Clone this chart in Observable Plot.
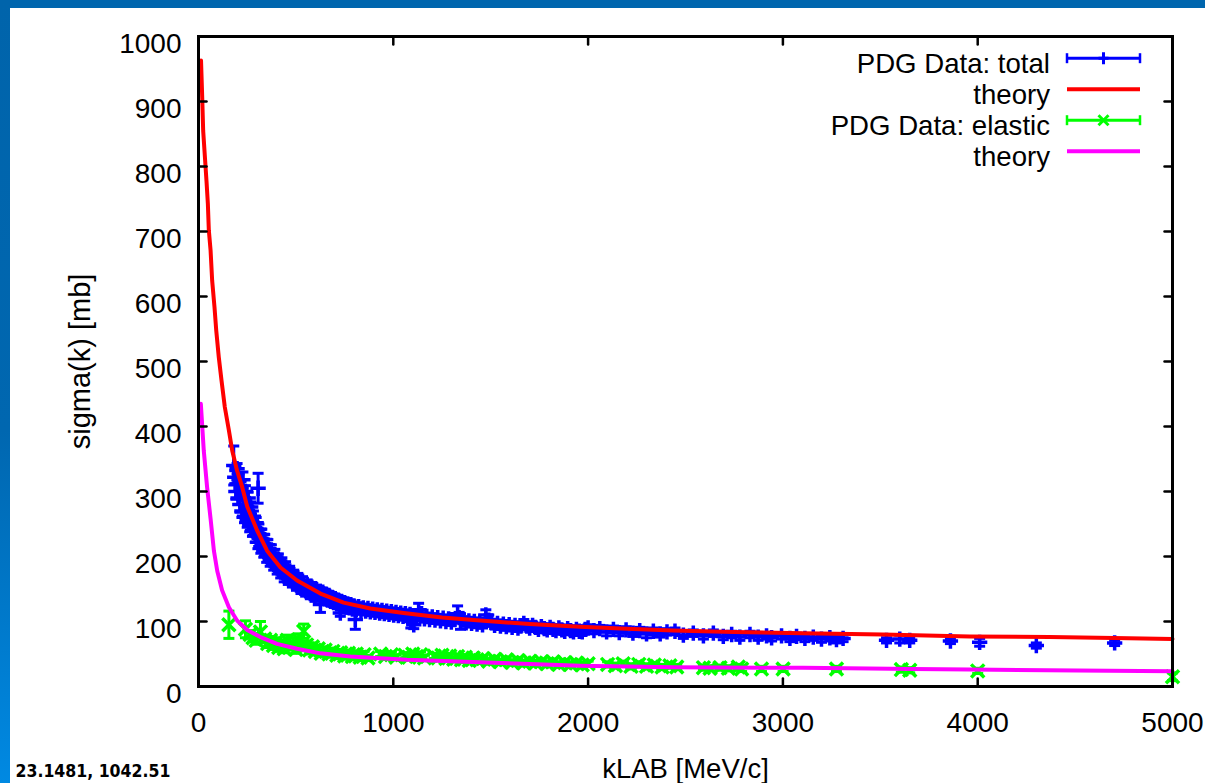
<!DOCTYPE html>
<html><head><meta charset="utf-8">
<script src="https://cdn.jsdelivr.net/npm/d3@7"></script>
<script src="https://cdn.jsdelivr.net/npm/@observablehq/plot@0.6"></script>
<style>
html,body{margin:0;padding:0;background:#fff;width:1205px;height:783px;overflow:hidden;}
#wrap{position:relative;width:1205px;height:783px;}
#topbar{position:absolute;left:0;top:0;width:1205px;height:8px;background:#0066ae;}
#leftbar{position:absolute;left:0;top:0;width:10px;height:783px;background:linear-gradient(#0064ab,#0067b0 55%,#0089e2);}
#chart{position:absolute;left:0;top:0;}
</style></head>
<body><div id="wrap"><div id="chart"></div><div id="topbar"></div><div id="leftbar"></div></div>
<script>
// ---- data ----
const xTicks = [0, 1000, 2000, 3000, 4000, 5000];
const yTicks = [0, 100, 200, 300, 400, 500, 600, 700, 800, 900, 1000];
const legendLabels = ["PDG Data: total", "theory", "PDG Data: elastic", "theory"];
const xLabel = "kLAB [MeV/c]";
const yLabel = "sigma(k) [mb]";
const cornerText = "23.1481, 1042.51";

// theory (total): k [MeV/c], sigma [mb]
const redK = [13, 19, 24, 33, 41, 48, 53, 62, 70, 82, 91, 104, 118, 135, 156, 173, 198, 224, 250, 301, 352, 421, 506, 626, 745, 882, 1053, 1250, 1446, 1700, 1959, 2200, 2436, 2750, 3103, 3513, 3959, 4369, 4700, 5000];
const redS = [963, 907, 855, 814, 778, 743, 702, 671, 625, 584, 548, 507, 471, 430, 394, 363, 332, 307, 277, 240, 209, 183, 163, 143, 129, 120, 113, 106, 101.5, 96, 92, 89, 86, 84, 82, 80, 77, 76, 74.5, 73];
// theory (elastic)
const magK = [12, 27, 44, 62, 79, 96, 121, 156, 198, 250, 318, 403, 506, 626, 779, 933, 1070, 1446, 1959, 2436, 3103, 3667, 3959, 4513, 5000];
const magS = [435, 363, 307, 258, 209, 178, 148, 122, 101.5, 87, 76, 65.6, 58, 51, 46, 43.5, 41, 37.4, 32, 29.7, 28.7, 27, 26, 24.6, 23.5];

// PDG total: [k, sigma, error]
const totalA = [[181,340,30],[186,322,10],[192,300,12],[198,335,8],[203,290,10],[208,318,9],[213,280,12],[218,305,10],[223,270,10],[228,318,12],
  [232,288,10],[236,262,10],[241,300,9],[245,276,10],[250,255,10],[255,290,9],[259,268,9],[306,305,23],[263,248,10],[268,276,8],
  [272,256,9],[277,240,9],[282,262,8],[287,245,8],[291,232,10],[296,252,8],[300,236,8],[305,222,10],[310,242,8],[315,228,8],
  [320,215,10],[325,234,8],[330,220,8],[335,208,9],[340,226,8],[345,212,8],[350,200,9],[356,218,8],[362,204,8],[368,194,9],
  [374,210,8],[380,196,8],[386,188,9],[392,203,8],[398,190,8],[404,182,9],[410,196,8],[416,184,8],[422,176,9],[428,190,8],
  [434,178,8],[440,170,9],[447,184,8],[454,173,8],[461,166,9],[468,178,7],[475,168,8],[482,161,8],[489,172,7],[496,163,7],
  [503,156,8],[510,167,7],[518,158,7],[526,151,8],[534,162,7],[542,153,7],[550,147,8],[558,157,7],[566,149,7],[574,143,8],
  [582,153,7],[590,145,7],[598,139,8],[606,149,7],[614,141,7]];
const totalB = [[626,126,12],[622,146,6],[630,138,6],[638,145,6],[646,135,6],[654,142,6],[662,133,6],[670,140,6],[678,131,6],[686,137,6],
  [694,129,6],[702,135,6],[710,127,6],[718,133,6],[728,113,5],[726,126,6],[734,131,6],[742,124,6],[750,129,6],[758,122,6],
  [766,127,6],[774,121,6],[782,126,6],[790,119,6],[805,103,15],[798,124,6],[810,118,6],[822,123,6],[834,117,6],[846,121,6],
  [858,116,6],[870,120,6],[882,115,6],[894,119,6],[906,114,6],[918,118,6],[930,113,6],[942,117,6],[954,112,6],[966,116,6],
  [978,111,6],[990,115,6],[1002,110,6],[1014,114,6],[1026,109,6],[1038,113,6],[1050,108,6],[1062,112,6],[1074,107,6],[1086,111,5]];
const totalC = [[1090,100,10],[1105,95,6],[1118,106,5],[1130,118,10],[1145,112,6],[1160,104,5],[1172,108,5],[1186,103,5],[1200,107,5],[1214,102,5],
  [1228,106,5],[1242,101,5],[1256,105,5],[1270,100,5],[1284,104,5],[1298,99,5],[1312,103,5],[1330,112,12],[1345,100,12],[1338,106,8],
  [1360,102,5],[1374,98,5],[1388,101,5],[1402,97,5],[1416,100,5],[1430,96,5],[1444,99,5],[1458,95,5],[1475,110,8],[1490,102,8],
  [1505,98,5],[1520,94,5],[1535,97,5],[1550,93,5],[1565,96,5],[1580,92,5],[1595,95,5],[1610,91,5],[1625,94,5],[1640,90,5],
  [1655,93,5],[1670,97,6],[1685,93,5],[1700,90,5],[1715,94,5],[1730,91,5],[1745,88,5],[1760,92,5],[1775,89,5],[1790,87,5],
  [1805,91,5],[1820,88,5],[1835,86,5],[1850,90,5],[1865,87,5],[1880,85,5],[1895,89,5],[1910,86,5],[1925,84,5],[1940,88,5],
  [1955,85,5],[1970,84,5],[1985,88,5]];
const totalD = [[2000,90,5],[2030,86,5],[2060,89,5],[2095,84,6],[2130,88,5],[2160,83,5],[2195,87,5],[2230,82,5],[2265,86,5],[2300,81,6],
  [2335,85,5],[2370,81,5],[2405,84,5],[2446,85,5],[2489,79,5],[2540,82,5],[2592,78,5],[2643,82,5],[2694,77,5],[2737,80,5],
  [2779,76,5],[2831,80,5],[2873,76,5],[2916,78,5],[2942,75,5],[2993,78,5],[3036,74,5],[3070,77,5],[3113,74,5],[3156,76,5],
  [3198,73,5],[3241,75,5],[3275,72,5],[3309,74,5],[3532,71,4],[3600,73,6],[3651,71,4],[3860,70,4],[4010,68,6],[4301,63,4],[4703,67,4]];

// PDG elastic: [k, sigma, error]
const elasticA = [[156,95,21],[241,88,13],[318,84,16],[265,80,6],[280,75,6],[296,71,6],[340,73,6],[355,66,6],[370,71,6],[385,63,6],
  [400,69,6],[412,60,6],[426,66,6],[440,58,6],[455,71,8],[470,62,6],[485,67,8],[500,57,6],[515,72,9],[530,61,6],
  [540,85,11],[555,64,6],[570,56,6],[585,61,6],[600,54,5],[615,58,5],[630,51,5],[650,56,5],[670,50,5],[690,54,5],
  [710,48,5],[730,52,5],[750,47,5],[770,51,5],[790,46,5],[810,50,5],[830,45,5],[850,49,5],[870,44,4]];
const elasticB = [[935,50,4],[960,46,4],[990,49,4],[1015,45,4],[1060,48,4],[1080,45,4],[1100,50,4],[1120,46,4],[1140,49,4],[1160,44,4],
  [1210,47,4],[1230,44,4],[1250,48,4],[1270,43,4],[1290,47,4],[1310,42,4],[1330,46,4],[1350,41,4],[1370,45,4],[1390,40,4],
  [1410,44,4],[1430,41,4],[1460,43,4],[1490,39,4],[1520,42,4],[1550,38,4],[1580,41,4],[1610,37,4],[1640,40,4],[1670,36,4],
  [1700,39,4],[1730,36,4],[1760,38,4],[1790,35,4],[1820,38,4],[1850,34,4],[1880,37,4],[1910,34,4],[1940,36,4],[1970,33,4],[2000,35,4]];
const elasticC = [[2100,34,4],[2140,32,4],[2180,35,4],[2220,31,4],[2260,34,4],[2300,31,4],[2340,33,4],[2380,30,4],[2420,32,4],[2455,30,4],
  [2592,29,4],[2626,28,4],[2677,29,4],[2720,28,4],[2771,30,4],[2788,27,4],[2890,27,4],[3001,27,4],[3275,27,4],[3608,26,4],
  [3651,25,4],[4000,24,4],[5000,15,6]];

// ---- colours ----
const BLUE = "#0000ff", RED = "#ff0000", GREEN = "#00ff00", MAGENTA = "#ff00ff";

const toRow = ([k, s, e]) => ({k, s, e});
const total = [...totalA, ...totalB, ...totalC, ...totalD].map(toRow);
const elastic = [...elasticA, ...elasticB, ...elasticC].map(toRow);
const thTotal = redK.map((k, i) => ({k, s: redS[i]}));
const thElastic = magK.map((k, i) => ({k, s: magS[i]}));

const cap = {draw(ctx, size) { const w = Math.sqrt(size / Math.PI); ctx.moveTo(-w, 0); ctx.lineTo(w, 0); }};
const tickShape = {draw(ctx, l) { ctx.moveTo(0, 0); ctx.lineTo(0, -l); }};

function errMarks(data, color, symbol, symR) {
  return [
    Plot.ruleX(data, {x: "k", y1: d => d.s - d.e, y2: d => d.s + d.e, stroke: color, strokeWidth: 3}),
    Plot.dot(data, {x: "k", y: d => d.s - d.e, symbol: cap, r: 5.5, fill: "none", stroke: color, strokeWidth: 3}),
    Plot.dot(data, {x: "k", y: d => d.s + d.e, symbol: cap, r: 5.5, fill: "none", stroke: color, strokeWidth: 3}),
    Plot.dot(data, {x: "k", y: "s", symbol, r: symR, fill: "none", stroke: color, strokeWidth: 3.5})
  ];
}

const FONT = "'Liberation Sans', Arial, Helvetica, sans-serif";

const plot = Plot.plot({
  width: 1205, height: 783,
  marginLeft: 198, marginRight: 33, marginTop: 36, marginBottom: 97,
  x: {domain: [0, 5000]},
  y: {domain: [0, 1000]},
  style: {fontFamily: FONT, fontSize: "28px", background: "transparent", color: "black"},
  marks: [
    ...errMarks(total, BLUE, "plus", 5),
    Plot.line(thTotal, {x: "k", y: "s", stroke: RED, strokeWidth: 4}),
    ...errMarks(elastic, GREEN, "times", 6),
    Plot.line(thElastic, {x: "k", y: "s", stroke: MAGENTA, strokeWidth: 4}),
    Plot.frame({stroke: "black", strokeWidth: 3}),
    Plot.vector(yTicks, {y: d => d, frameAnchor: "left", rotate: 90, length: 8, anchor: "start", shape: tickShape, stroke: "black", strokeWidth: 2.5}),
    Plot.vector(yTicks, {y: d => d, frameAnchor: "right", rotate: -90, length: 8, anchor: "start", shape: tickShape, stroke: "black", strokeWidth: 2.5}),
    Plot.vector(xTicks, {x: d => d, frameAnchor: "bottom", rotate: 0, length: 8, anchor: "start", shape: tickShape, stroke: "black", strokeWidth: 2.5}),
    Plot.vector(xTicks, {x: d => d, frameAnchor: "top", rotate: 180, length: 8, anchor: "start", shape: tickShape, stroke: "black", strokeWidth: 2.5}),
    Plot.axisY({ticks: yTicks, tickSize: 0, tickPadding: 17, dy: 7.5, label: null, tickFormat: d => String(d), fontSize: 28}),
    Plot.axisX({ticks: xTicks, tickSize: 0, tickPadding: 26, label: null, tickFormat: d => String(d), fontSize: 28}),
    Plot.text([xLabel], {frameAnchor: "bottom", dy: 83, fontSize: 27.5, textAnchor: "middle", lineAnchor: "middle"}),
    Plot.text([yLabel], {frameAnchor: "left", dx: -118, rotate: -90, fontSize: 29, textAnchor: "middle", lineAnchor: "middle"}),
    Plot.text([cornerText], {frameAnchor: "bottom-left", dx: -183, dy: 85, textAnchor: "start", lineAnchor: "middle", fontSize: 17.5, fontWeight: "bold", fontFamily: "'DejaVu Sans Condensed', 'DejaVu Sans', sans-serif"})
  ]
});

document.getElementById("chart").appendChild(plot);

// ---- legend (inside plot, top right) ----
const svg = d3.select(plot);
const lg = svg.append("g").attr("font-family", FONT).attr("font-size", 27.6);
const legendStyle = [
  {color: BLUE, err: true, sym: "plus"},
  {color: RED, err: false},
  {color: GREEN, err: true, sym: "times"},
  {color: MAGENTA, err: false}
];
const textRight = 1050, lx1 = 1067, lx2 = 1140, base0 = 72.7, rowH = 31;
legendLabels.forEach((lab, i) => {
  const st = legendStyle[i];
  const base = base0 + i * rowH, ly = base - 14.5;
  lg.append("text").attr("x", textRight).attr("y", base).attr("text-anchor", "end").attr("fill", "black").text(lab);
  const g = lg.append("g").attr("stroke", st.color).attr("fill", "none");
  g.append("line").attr("x1", lx1).attr("x2", lx2).attr("y1", ly).attr("y2", ly).attr("stroke-width", st.err ? 3 : 4);
  if (st.err) {
    g.append("line").attr("x1", lx1).attr("x2", lx1).attr("y1", ly - 5).attr("y2", ly + 5).attr("stroke-width", 2.5);
    g.append("line").attr("x1", lx2).attr("x2", lx2).attr("y1", ly - 5).attr("y2", ly + 5).attr("stroke-width", 2.5);
    const cx = (lx1 + lx2) / 2;
    if (st.sym === "plus") {
      g.append("path").attr("d", `M${cx - 5},${ly}H${cx + 5}M${cx},${ly - 6}V${ly + 6}`).attr("stroke-width", 3);
    } else {
      g.append("path").attr("d", `M${cx - 5},${ly - 5}L${cx + 5},${ly + 5}M${cx - 5},${ly + 5}L${cx + 5},${ly - 5}`).attr("stroke-width", 3);
    }
  }
});
</script></body></html>
